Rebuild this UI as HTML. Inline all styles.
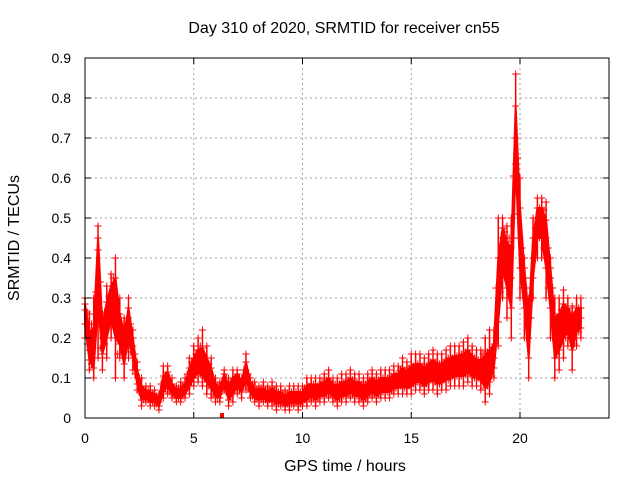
<!DOCTYPE html>
<html><head><meta charset="utf-8"><style>
body{margin:0;background:#fff;}
svg text{font-family:"Liberation Sans",sans-serif;font-size:14px;fill:#000;}
svg text.big{font-size:16px;}
</style></head><body>
<svg id="chart" width="640" height="480">
<rect x="0" y="0" width="640" height="480" fill="#fff"/>
<g id="grid"></g><g id="marks"></g><g id="axes"></g>
<text class="big" x="344" y="33" text-anchor="middle">Day 310 of 2020, SRMTID for receiver cn55</text>
<text class="big" x="345" y="471" text-anchor="middle">GPS time / hours</text>
<text class="big" x="0" y="0" text-anchor="middle" transform="translate(19,238) rotate(-90)">SRMTID / TECUs</text>
</svg>
<script>
const xTicks=[0,5,10,15,20];
const yTicks=[0,0.1,0.2,0.3,0.4,0.5,0.6,0.7,0.8,0.9];
const yTickLabels=["0","0.1","0.2","0.3","0.4","0.5","0.6","0.7","0.8","0.9"];
const times=[0,0.2,0.4,0.6,0.8,1.0,1.2,1.4,1.6,1.8,2.0,2.2,2.4,2.6,2.8,3.0,3.2,3.4,3.6,3.8,4.0,4.2,4.4,4.6,4.8,5.0,5.2,5.4,5.6,5.8,6.0,6.2,6.4,6.6,6.8,7.0,7.2,7.4,7.6,7.8,8.0,8.2,8.4,8.6,8.8,9.0,9.2,9.4,9.6,9.8,10.0,10.2,10.4,10.6,10.8,11.0,11.2,11.4,11.6,11.8,12.0,12.2,12.4,12.6,12.8,13.0,13.2,13.4,13.6,13.8,14.0,14.2,14.4,14.6,14.8,15.0,15.2,15.4,15.6,15.8,16.0,16.2,16.4,16.6,16.8,17.0,17.2,17.4,17.6,17.8,18.0,18.2,18.4,18.6,18.8,19.0,19.2,19.4,19.6,19.8,20.0,20.2,20.4,20.6,20.8,21.0,21.2,21.4,21.6,21.8,22.0,22.2,22.4,22.6,22.8];
const medianVals=[0.27,0.17,0.15,0.42,0.2,0.25,0.3,0.3,0.22,0.17,0.25,0.18,0.1,0.06,0.06,0.05,0.05,0.04,0.08,0.1,0.07,0.06,0.06,0.07,0.1,0.12,0.14,0.13,0.12,0.1,0.07,0.06,0.1,0.06,0.08,0.1,0.08,0.12,0.08,0.06,0.06,0.06,0.05,0.06,0.05,0.05,0.04,0.05,0.05,0.05,0.05,0.06,0.07,0.06,0.07,0.07,0.08,0.07,0.06,0.07,0.07,0.08,0.07,0.07,0.06,0.07,0.08,0.07,0.08,0.08,0.08,0.09,0.09,0.1,0.09,0.1,0.11,0.11,0.1,0.11,0.12,0.11,0.11,0.12,0.12,0.13,0.13,0.13,0.14,0.13,0.12,0.12,0.11,0.12,0.15,0.3,0.45,0.4,0.35,0.7,0.45,0.35,0.2,0.4,0.5,0.5,0.45,0.35,0.2,0.22,0.25,0.25,0.22,0.25,0.25];
const lowVals=[0.2,0.12,0.1,0.15,0.12,0.15,0.2,0.1,0.15,0.1,0.15,0.12,0.07,0.03,0.04,0.03,0.03,0.02,0.05,0.06,0.05,0.04,0.04,0.05,0.06,0.08,0.09,0.08,0.06,0.05,0.04,0.04,0.07,0.03,0.04,0.06,0.05,0.07,0.05,0.04,0.03,0.04,0.03,0.03,0.02,0.03,0.02,0.02,0.03,0.02,0.03,0.03,0.04,0.03,0.04,0.04,0.05,0.04,0.03,0.04,0.04,0.05,0.04,0.04,0.03,0.04,0.05,0.04,0.05,0.05,0.05,0.06,0.06,0.06,0.06,0.06,0.07,0.07,0.06,0.07,0.07,0.06,0.07,0.07,0.08,0.08,0.08,0.08,0.09,0.08,0.08,0.07,0.04,0.06,0.1,0.18,0.3,0.25,0.2,0.57,0.3,0.2,0.1,0.3,0.4,0.4,0.3,0.2,0.1,0.12,0.15,0.18,0.12,0.18,0.2];
const highVals=[0.3,0.26,0.3,0.48,0.26,0.33,0.36,0.4,0.3,0.25,0.3,0.22,0.14,0.1,0.08,0.08,0.07,0.06,0.13,0.13,0.1,0.08,0.09,0.1,0.15,0.18,0.2,0.22,0.18,0.15,0.1,0.09,0.12,0.1,0.12,0.12,0.1,0.16,0.1,0.09,0.08,0.09,0.08,0.09,0.08,0.08,0.07,0.08,0.08,0.08,0.08,0.1,0.1,0.1,0.1,0.11,0.12,0.1,0.1,0.11,0.11,0.12,0.11,0.11,0.1,0.11,0.12,0.11,0.12,0.12,0.12,0.13,0.13,0.15,0.14,0.16,0.16,0.16,0.15,0.16,0.17,0.16,0.16,0.17,0.18,0.18,0.18,0.19,0.2,0.18,0.17,0.17,0.2,0.22,0.22,0.5,0.5,0.48,0.5,0.86,0.6,0.4,0.3,0.5,0.55,0.55,0.54,0.4,0.3,0.3,0.32,0.3,0.28,0.3,0.3];
const X0=85,X1=609,Y0=418,Y1=58;
const xs=h=>X0+h*21.75;
const ys=v=>Y0-v*400;
const NS="http://www.w3.org/2000/svg";
function mk(tag,attrs,parent){const e=document.createElementNS(NS,tag);for(const k in attrs)e.setAttribute(k,attrs[k]);parent.appendChild(e);return e;}
const grid=document.getElementById('grid'),axes=document.getElementById('axes'),marks=document.getElementById('marks');
xTicks.forEach(t=>{
  const x=xs(t);
  if(t>0){const g=mk('line',{x1:x,x2:x,y1:Y1,y2:Y0,stroke:'#a0a0a0','stroke-dasharray':'2,3'},grid);
  
  }
  mk('line',{x1:x,x2:x,y1:Y0,y2:Y0-6,stroke:'#000'},axes);
  mk('line',{x1:x,x2:x,y1:Y1,y2:Y1+6,stroke:'#000'},axes);
  const tx=mk('text',{x:x,y:443,'text-anchor':'middle'},axes);tx.textContent=t;
  
  
});
yTicks.forEach((t,i)=>{
  const y=ys(t);
  if(t>0&&t<0.9){const g=mk('line',{x1:X0,x2:X1,y1:y,y2:y,stroke:'#a0a0a0','stroke-dasharray':'2,3'},grid);
  
  }
  mk('line',{x1:X0,x2:X0+6,y1:y,y2:y,stroke:'#000'},axes);
  mk('line',{x1:X1,x2:X1-6,y1:y,y2:y,stroke:'#000'},axes);
  const tx=mk('text',{x:71,y:y+5,'text-anchor':'end'},axes);tx.textContent=yTickLabels[i];
  
  
});
const frame=mk('rect',{x:X0,y:Y1,width:X1-X0,height:Y0-Y1,fill:'none',stroke:'#000'},axes);


// dense band polygon
let up=[],dn=[];
times.forEach((h,i)=>{
  up.push(xs(h)+','+ys((highVals[i]+medianVals[i])/2));
  dn.unshift(xs(h)+','+ys((lowVals[i]+medianVals[i])/2));
});
const band=mk('polygon',{points:up.concat(dn).join(' '),fill:'#f00',stroke:'#f00','stroke-width':2},marks);


function plus(h,v){
  const x=xs(h),y=ys(v);
  const p=mk('path',{d:`M${x-3.5},${y}h7M${x},${y-3.5}v7`,stroke:'#f00','stroke-width':1},marks);
  
  
}
times.forEach((h,i)=>{
  const r=mk('line',{x1:xs(h),x2:xs(h),y1:ys(lowVals[i]),y2:ys(highVals[i]),stroke:'#f00','stroke-width':1.5},marks);
  
  
  if(i<times.length-1){
    const hm=(h+times[i+1])/2;
    plus(hm,(lowVals[i]+medianVals[i+1])/2);
    plus(hm,(highVals[i+1]+medianVals[i])/2);
  }
  plus(h,lowVals[i]);plus(h,medianVals[i]);plus(h,highVals[i]);
  plus(h,(lowVals[i]+medianVals[i])/2);plus(h,(highVals[i]+medianVals[i])/2);
});
const sq=mk('rect',{x:xs(6.3)-2,y:Y0-5,width:4,height:5,fill:'#f00'},marks);


</script>
</body></html>
